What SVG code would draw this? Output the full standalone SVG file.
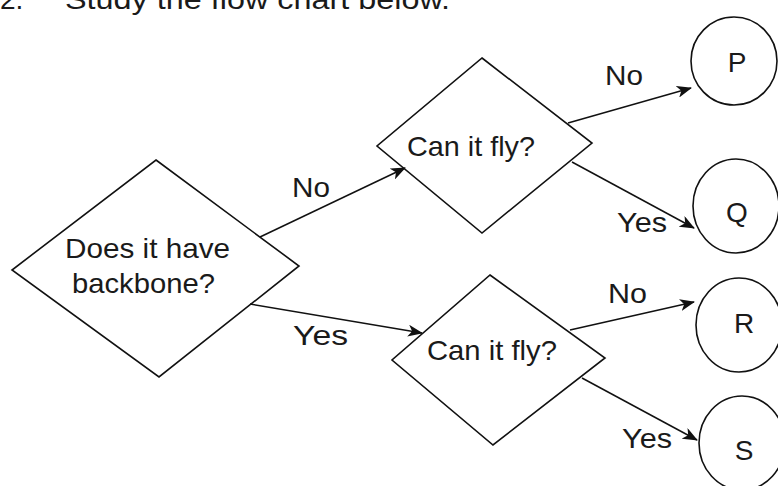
<svg xmlns="http://www.w3.org/2000/svg" width="778" height="486" viewBox="0 0 778 486">
<style>
.shape{fill:none;stroke:#111;stroke-width:1.6;stroke-linejoin:miter}
.t{font-family:"Liberation Sans",Arial,sans-serif;font-size:28px;fill:#1a1a1a}
.conn{fill:none;stroke:#111;stroke-width:1.5;marker-end:url(#arr)}
</style>
<defs>
<marker id="arr" markerUnits="userSpaceOnUse" markerWidth="16" markerHeight="12" refX="14" refY="6" orient="auto">
<path d="M0,0 L15,6 L0,12 L4,6 Z" fill="#111"/>
</marker>
</defs>
<rect width="778" height="486" fill="#fff"/>
<g id="heading">
<text class="t" x="0" y="9" font-size="30">2.</text>
<text class="t" x="65" y="9" font-size="30" textLength="385" lengthAdjust="spacingAndGlyphs">Study the flow chart below.</text>
</g>
<g id="connectors">
<line class="conn" x1="260" y1="237" x2="405" y2="168"/>
<line class="conn" x1="250" y1="304" x2="422" y2="333"/>
<line class="conn" x1="568" y1="123" x2="691" y2="88"/>
<line class="conn" x1="572" y1="162" x2="694" y2="228"/>
<line class="conn" x1="570" y1="330" x2="694" y2="302"/>
<line class="conn" x1="582" y1="378" x2="697" y2="440"/>
<text class="t" x="292" y="197" textLength="38" lengthAdjust="spacingAndGlyphs">No</text>
<text class="t" x="293" y="345" textLength="55" lengthAdjust="spacingAndGlyphs">Yes</text>
<text class="t" x="605" y="85" textLength="38" lengthAdjust="spacingAndGlyphs">No</text>
<text class="t" x="617" y="232" textLength="50" lengthAdjust="spacingAndGlyphs">Yes</text>
<text class="t" x="608" y="303" textLength="39" lengthAdjust="spacingAndGlyphs">No</text>
<text class="t" x="622" y="448" textLength="50" lengthAdjust="spacingAndGlyphs">Yes</text>
</g>
<g id="backbone">
<polygon class="shape" points="156,160 299,266 159,377 12,270"/>
<text class="t" x="65" y="258" textLength="165" lengthAdjust="spacingAndGlyphs">Does it have</text>
<text class="t" x="72" y="293" textLength="143" lengthAdjust="spacingAndGlyphs">backbone?</text>
</g>
<g id="fly1">
<polygon class="shape" points="482,58 592,143 482,233 377,146"/>
<text class="t" x="407" y="156" textLength="128" lengthAdjust="spacingAndGlyphs">Can it fly?</text>
</g>
<g id="fly2">
<polygon class="shape" points="490,275 605,358 493,445 392,360"/>
<text class="t" x="427" y="360" textLength="130" lengthAdjust="spacingAndGlyphs">Can it fly?</text>
</g>
<g id="P">
<ellipse class="shape" cx="734" cy="61" rx="43" ry="44"/>
<text class="t" x="737" y="72" text-anchor="middle">P</text>
</g>
<g id="Q">
<ellipse class="shape" cx="736" cy="206" rx="43" ry="47"/>
<text class="t" x="737" y="222" text-anchor="middle">Q</text>
</g>
<g id="R">
<ellipse class="shape" cx="739" cy="325" rx="43" ry="47"/>
<text class="t" x="744" y="333" text-anchor="middle">R</text>
</g>
<g id="S">
<ellipse class="shape" cx="742" cy="443" rx="43" ry="47"/>
<text class="t" x="744" y="460" text-anchor="middle">S</text>
</g>
</svg>
